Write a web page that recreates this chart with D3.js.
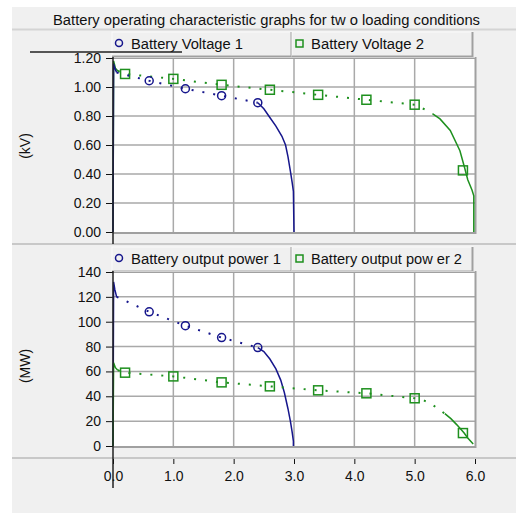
<!DOCTYPE html>
<html>
<head>
<meta charset="utf-8">
<script src="https://cdn.jsdelivr.net/npm/d3@7"></script>
<style>
  body { margin: 0; background: #fff; }
  svg { display: block; font-family: "Liberation Sans", Arial, sans-serif; }
</style>
</head>
<body>
<svg id="chart"></svg>
<script>
const width = 516;
const height = 513;

const title = 'Battery operating characteristic graphs for tw o loading conditions';
const xTicks = [0, 1, 2, 3, 4, 5, 6];
const voltTicks = [0, 0.2, 0.4, 0.6, 0.8, 1.0, 1.2];
const powerTicks = [0, 20, 40, 60, 80, 100, 120, 140];

// voltage, kV
const volt1X = [0, 0.01, 0.03, 0.06, 0.6, 1.2, 1.8, 2.4, 2.5, 2.6, 2.7, 2.8, 2.86, 2.9, 2.94, 2.97, 2.99, 3.0];
const volt1Y = [0, 1.16, 1.13, 1.10, 1.043, 0.988, 0.94, 0.892, 0.85, 0.79, 0.73, 0.66, 0.60, 0.52, 0.42, 0.34, 0.28, 0];
const volt1MarkX = [0.6, 1.2, 1.8, 2.4];
const volt1MarkY = [1.043, 0.988, 0.94, 0.892];

const volt2X = [0, 0.01, 0.04, 0.08, 0.2, 1.0, 1.8, 2.6, 3.4, 4.2, 5.0, 5.21, 5.3, 5.42, 5.59, 5.75, 5.83, 5.88, 5.95, 5.98, 5.98];
const volt2Y = [0, 1.18, 1.13, 1.11, 1.09, 1.056, 1.015, 0.981, 0.946, 0.912, 0.878, 0.837, 0.815, 0.78, 0.70, 0.56, 0.44, 0.36, 0.29, 0.25, 0];
const volt2MarkX = [0.2, 1.0, 1.8, 2.6, 3.4, 4.2, 5.0, 5.8];
const volt2MarkY = [1.09, 1.056, 1.015, 0.981, 0.946, 0.912, 0.878, 0.425];

// power, MW
const pow1X = [0, 0.01, 0.03, 0.06, 0.6, 1.2, 1.8, 2.4, 2.5, 2.6, 2.7, 2.78, 2.84, 2.9, 2.94, 2.97, 2.99, 2.99];
const pow1Y = [0, 132, 126, 120, 108, 96.8, 87.2, 79.2, 76, 70, 62, 53, 43, 30, 20, 11, 4, 0];
const pow1MarkX = [0.6, 1.2, 1.8, 2.4];
const pow1MarkY = [108, 96.8, 87.2, 79.2];

const pow2X = [0, 0.01, 0.04, 0.08, 0.2, 1.0, 1.8, 2.6, 3.4, 4.2, 5.0, 5.14, 5.3, 5.5, 5.6, 5.7, 5.82, 5.88, 5.97];
const pow2Y = [0, 67, 63, 61, 59, 56, 51.2, 48, 44.8, 42.4, 38.4, 37, 33, 26, 22, 17, 10.4, 6.4, 1.6];
const pow2MarkX = [0.2, 1.0, 1.8, 2.6, 3.4, 4.2, 5.0, 5.8];
const pow2MarkY = [59, 56, 51.2, 48, 44.8, 42.4, 38.4, 10.4];

const blue = '#16168c';
const green = '#1e901e';
const gridColor = '#a9a9a9';
const font = '"Liberation Sans", Arial, sans-serif';

const svg = d3.select('#chart').attr('width', width).attr('height', height);

// backgrounds
svg.append('rect').attr('x', 12).attr('y', 7).attr('width', width - 12).attr('height', height - 7).attr('fill', '#f0f0f0');
svg.append('line').attr('x1', 12).attr('x2', width).attr('y1', 29.5).attr('y2', 29.5).attr('stroke', '#d4d4d4').attr('stroke-width', 2);
svg.append('text').attr('x', 53).attr('y', 25)
  .attr('textLength', 427).attr('lengthAdjust', 'spacingAndGlyphs')
  .attr('font-size', 14).attr('fill', '#111').text(title);

svg.append('line').attr('x1', 12).attr('x2', width).attr('y1', 244).attr('y2', 244).attr('stroke', '#c8c8c8').attr('stroke-width', 2);
svg.append('line').attr('x1', 12).attr('x2', width).attr('y1', 458).attr('y2', 458).attr('stroke', '#c8c8c8').attr('stroke-width', 2);

const x = d3.scaleLinear().domain([0, 6]).range([113, 475]);
const yVolt = d3.scaleLinear().domain([0, 1.2]).range([232, 58]);
const yPow = d3.scaleLinear().domain([0, 140]).range([446, 272]);

function drawPanel(y, ticks, fmt, label, labelY, legendY, legends, series) {
  const [y0, y1] = y.range();
  const g = svg.append('g');

  // legend boxes
  legends.forEach((lg, i) => {
    const bx = i === 0 ? 112 : 292;
    const bw = i === 0 ? 180 : 181;
    const lgG = g.append('g');
    lgG.append('rect').attr('x', bx).attr('y', legendY).attr('width', bw).attr('height', 24)
      .attr('fill', '#f0f0f0').attr('stroke', '#fafafa');
    lgG.append('path').attr('d', `M${bx + bw - 0.5},${legendY} V${legendY + 24.5} H${bx}`)
      .attr('fill', 'none').attr('stroke', '#a0a0a0').attr('stroke-width', 2);
    if (lg.shape === 'circle') {
      lgG.append('circle').attr('cx', bx + 7).attr('cy', legendY + 11).attr('r', 3.5)
        .attr('fill', 'none').attr('stroke', lg.color).attr('stroke-width', 1.5);
    } else {
      lgG.append('rect').attr('x', bx + 4).attr('y', legendY + 8).attr('width', 7).attr('height', 7)
        .attr('fill', 'none').attr('stroke', lg.color).attr('stroke-width', 1.5);
    }
    lgG.append('text').attr('x', bx + 19).attr('y', legendY + 17).attr('font-size', 14)
      .attr('textLength', lg.len).attr('lengthAdjust', 'spacingAndGlyphs')
      .attr('fill', '#111').text(lg.name);
  });

  // plot area
  g.append('rect').attr('x', 113).attr('y', y1).attr('width', 362).attr('height', y0 - y1).attr('fill', '#fff');

  g.append('g').selectAll('line').data(ticks.slice(1, -1)).join('line')
    .attr('x1', 113).attr('x2', 475).attr('y1', d => y(d)).attr('y2', d => y(d))
    .attr('stroke', gridColor).attr('stroke-width', 1.5);
  g.append('g').selectAll('line').data(xTicks.slice(1, -1)).join('line')
    .attr('x1', d => x(d)).attr('x2', d => x(d)).attr('y1', y1).attr('y2', y0)
    .attr('stroke', gridColor).attr('stroke-width', 1.5);

  g.append('path').attr('d', `M113,${y1} H475.5 V${y0 + 1} H113`)
    .attr('fill', 'none').attr('stroke', '#a0a0a0').attr('stroke-width', 2);
  g.append('line').attr('x1', 113).attr('x2', 475).attr('y1', y1 - 0.5).attr('y2', y1 - 0.5)
    .attr('stroke', '#d0d0d0');

  // y axis
  const axis = g.append('g').attr('transform', 'translate(113,0)')
    .call(d3.axisLeft(y).tickValues(ticks).tickFormat(fmt).tickSize(7).tickPadding(5));
  axis.select('.domain').remove();
  axis.selectAll('text').attr('font-size', 14).attr('fill', '#111').attr('font-family', font);
  axis.selectAll('line').attr('stroke', '#111');

  g.append('text').attr('transform', `translate(30,${labelY}) rotate(-90)`)
    .attr('text-anchor', 'middle').attr('font-size', 14).attr('fill', '#111').text(label);

  // series: startup spike solid, slow decline dotted, final drop solid
  const line = d3.line().x(p => x(p[0])).y(p => y(p[1]));
  series.forEach(s => {
    const pts = s.xs.map((v, i) => [v, s.ys[i]]);
    const cut = s.xs.findIndex(v => v >= s.split);
    const spike = pts.slice(0, 4);
    const flat = pts.slice(3, cut + 1);
    const drop = pts.slice(cut);
    g.append('path').datum(spike).attr('d', line).attr('fill', 'none')
      .attr('stroke', s.color).attr('stroke-width', 1.5);
    g.append('path').datum(flat).attr('d', line).attr('fill', 'none')
      .attr('stroke', s.color).attr('stroke-width', 2).attr('stroke-dasharray', '2,9');
    g.append('path').datum(drop).attr('d', line).attr('fill', 'none')
      .attr('stroke', s.color).attr('stroke-width', 1.5);

    const marks = s.mx.map((v, i) => [v, s.my[i]]);
    if (s.shape === 'circle') {
      g.append('g').selectAll('circle').data(marks).join('circle')
        .attr('cx', p => x(p[0])).attr('cy', p => y(p[1])).attr('r', 4)
        .attr('fill', 'none').attr('stroke', s.color).attr('stroke-width', 1.5);
    } else {
      g.append('g').selectAll('rect').data(marks).join('rect')
        .attr('x', p => x(p[0]) - 4.5).attr('y', p => y(p[1]) - 4.5).attr('width', 9).attr('height', 9)
        .attr('fill', 'none').attr('stroke', s.color).attr('stroke-width', 1.5);
    }
  });
  return g;
}

drawPanel(yVolt, voltTicks, d3.format('.2f'), '(kV)', 146, 32,
  [{name: 'Battery Voltage 1', color: blue, shape: 'circle', len: 112},
   {name: 'Battery Voltage 2', color: green, shape: 'square', len: 113}],
  [{xs: volt2X, ys: volt2Y, mx: volt2MarkX, my: volt2MarkY, color: green, shape: 'square', split: 5.3},
   {xs: volt1X, ys: volt1Y, mx: volt1MarkX, my: volt1MarkY, color: blue, shape: 'circle', split: 2.4}]);

drawPanel(yPow, powerTicks, d3.format('d'), '(MW)', 366, 247,
  [{name: 'Battery output power 1', color: blue, shape: 'circle', len: 150},
   {name: 'Battery output pow er 2', color: green, shape: 'square', len: 151}],
  [{xs: pow1X, ys: pow1Y, mx: pow1MarkX, my: pow1MarkY, color: blue, shape: 'circle', split: 2.4},
   {xs: pow2X, ys: pow2Y, mx: pow2MarkX, my: pow2MarkY, color: green, shape: 'square', split: 5.5}]);

// left axis lines
svg.append('line').attr('x1', 113).attr('x2', 113).attr('y1', 57).attr('y2', 244).attr('stroke', '#222').attr('stroke-width', 1.5);
svg.append('line').attr('x1', 113).attr('x2', 113).attr('y1', 271).attr('y2', 488).attr('stroke', '#222').attr('stroke-width', 1.5);
svg.append('line').attr('x1', 30).attr('x2', 182).attr('y1', 52).attr('y2', 52).attr('stroke', '#222').attr('stroke-width', 1.5);

// x axis
const xAxis = svg.append('g').attr('transform', 'translate(0,459)')
  .call(d3.axisBottom(x).tickValues(xTicks).tickFormat(d3.format('.1f')).tickSize(5).tickPadding(7));
xAxis.select('.domain').remove();
xAxis.selectAll('text').attr('font-size', 14).attr('fill', '#111').attr('font-family', font);
xAxis.selectAll('line').attr('stroke', '#111');
</script>
</body>
</html>
